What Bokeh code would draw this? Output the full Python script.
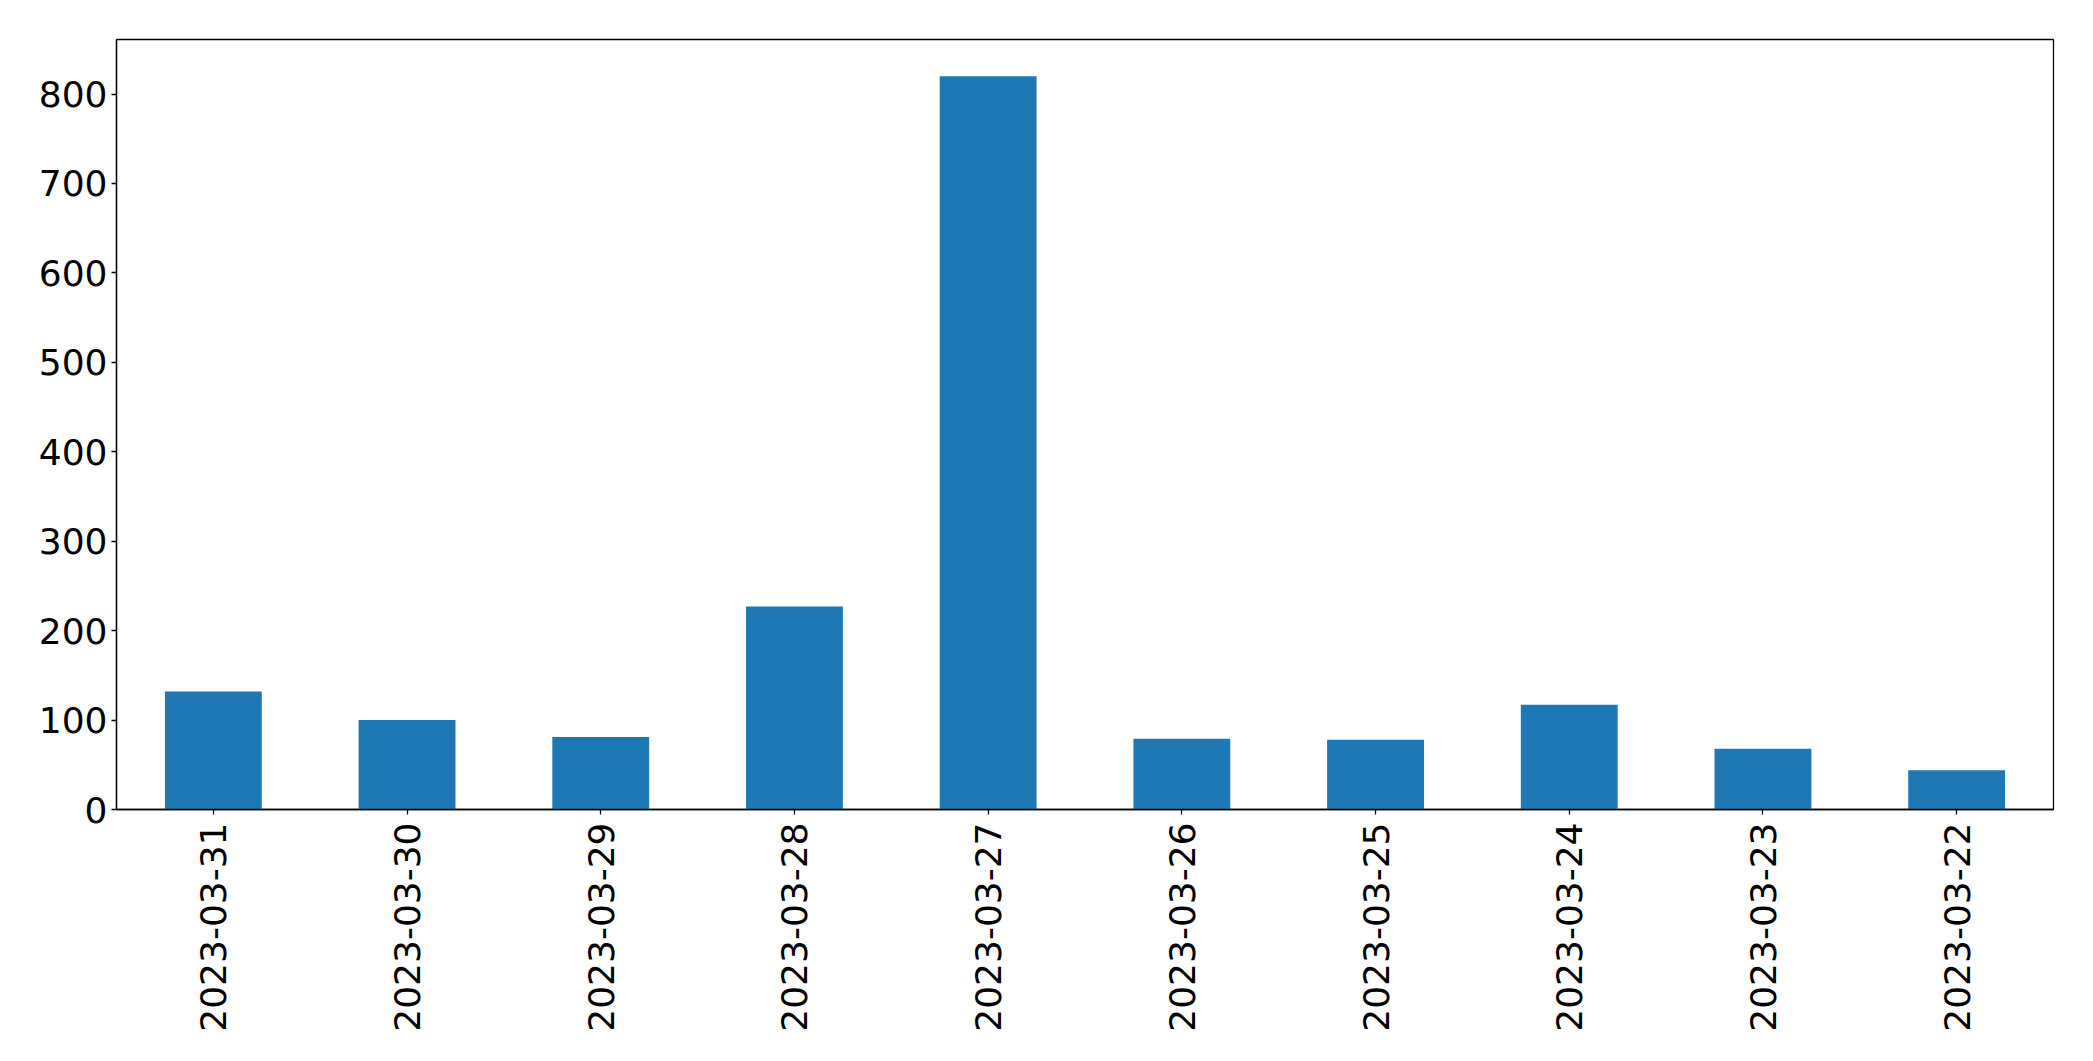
import math
from bokeh.plotting import figure
from bokeh.models import Range1d, FactorRange, ColumnDataSource
from bokeh.embed import file_html
from bokeh.resources import INLINE

dates = ["2023-03-31", "2023-03-30", "2023-03-29", "2023-03-28", "2023-03-27",
         "2023-03-26", "2023-03-25", "2023-03-24", "2023-03-23", "2023-03-22"]
counts = [132, 100, 81, 227, 820, 79, 78, 117, 68, 44]

source = ColumnDataSource(data=dict(date=dates, count=counts))

p = figure(width=2077, height=1045, output_backend="svg", toolbar_location=None,
           x_range=FactorRange(factors=dates, range_padding=0),
           y_range=Range1d(0, 861),
           min_border_left=116, min_border_right=24, min_border_top=39, min_border_bottom=236)

p.vbar(x="date", top="count", width=0.5, source=source, fill_color="#1f77b4", line_color=None)

p.xgrid.visible = False
p.ygrid.visible = False
p.outline_line_color = "black"
p.outline_line_width = 1.3
p.outline_line_alpha = 1

for ax in (p.xaxis, p.yaxis):
    ax.axis_line_color = "black"
    ax.axis_line_width = 1.3
    ax.major_tick_line_color = "black"
    ax.major_tick_line_width = 1.3
    ax.major_tick_in = 0
    ax.major_tick_out = 5
    ax.minor_tick_line_color = None
    ax.major_label_text_font = "DejaVu Sans"
    ax.major_label_text_font_size = "36px"
    ax.major_label_text_color = "black"

p.yaxis.ticker = [0, 100, 200, 300, 400, 500, 600, 700, 800]
p.yaxis.major_label_standoff = 4
p.xaxis.major_label_orientation = math.pi / 2
p.xaxis.major_label_standoff = 8
p.xaxis.group_text_font_size = "0px"

open("out.html", "w").write(file_html(p, INLINE))
